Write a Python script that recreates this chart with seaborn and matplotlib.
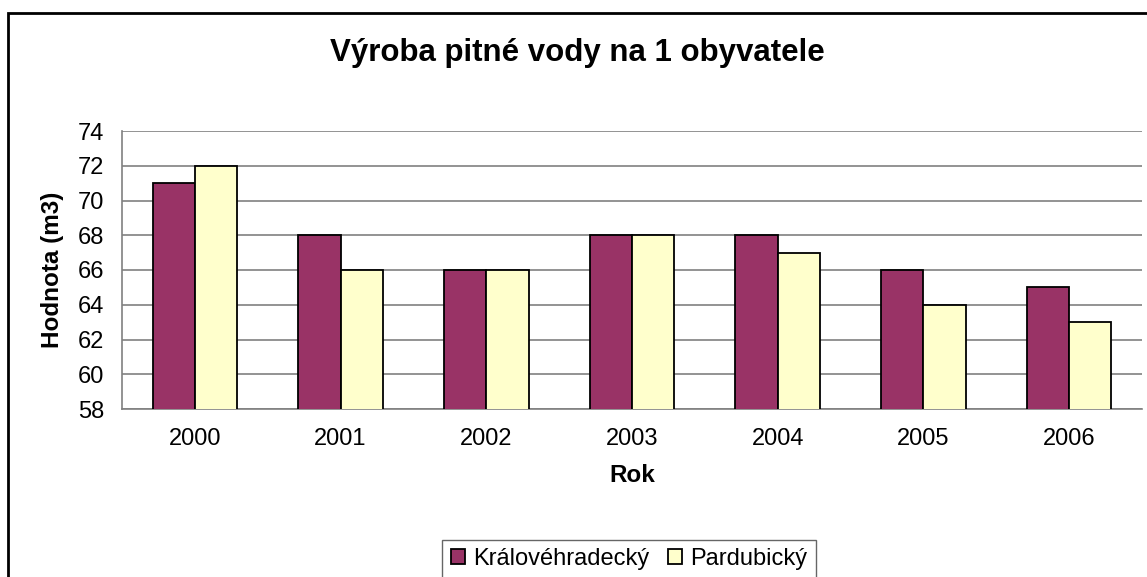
import matplotlib
matplotlib.use("Agg")
import matplotlib.pyplot as plt
import pandas as pd
import seaborn as sns
from matplotlib.patches import Rectangle

years = ["2000", "2001", "2002", "2003", "2004", "2005", "2006"]
kralovehradecky = [71, 68, 66, 68, 68, 66, 65]
pardubicky = [72, 66, 66, 68, 67, 64, 63]
series_names = ["Královéhradecký", "Pardubický"]

df = pd.DataFrame({
    "Rok": years * 2,
    "Hodnota": kralovehradecky + pardubicky,
    "Kraj": [series_names[0]] * len(years) + [series_names[1]] * len(years),
})

sns.set_style("white")
plt.rcParams["font.family"] = ["Liberation Sans", "DejaVu Sans"]
plt.rcParams["text.color"] = "black"
plt.rcParams["xtick.color"] = "black"
plt.rcParams["ytick.color"] = "black"
plt.rcParams["axes.labelcolor"] = "black"

fig = plt.figure(figsize=(11.47, 5.77), dpi=100)
ax = fig.add_axes([122 / 1147, 1 - 409 / 577, (1142 - 122) / 1147, (409 - 131) / 577])

sns.barplot(data=df, x="Rok", y="Hodnota", hue="Kraj",
            palette=["#993366", "#FFFFCC"], saturation=1, width=0.58, gap=0,
            edgecolor="black", linewidth=1.3, ax=ax, legend=True, zorder=3)

ax.set_xlim(-0.5, len(years) - 0.5)
ax.set_ylim(58, 74)
ax.set_yticks(range(58, 75, 2))
ax.yaxis.grid(True, color="#808080", linewidth=1.2, zorder=0)
ax.set_axisbelow(True)

for side in ["top", "right"]:
    ax.spines[side].set_visible(False)
for side in ["left", "bottom"]:
    ax.spines[side].set_color("#808080")
    ax.spines[side].set_linewidth(1.2)

ax.set_xticks([i - 0.5 for i in range(len(years) + 1)], minor=True)
ax.tick_params(axis="x", which="major", length=0, pad=14, labelsize=17)
ax.tick_params(axis="x", which="minor", length=7, color="#808080", width=1.2, direction="out")
ax.tick_params(axis="y", length=7, color="#808080", labelcolor="black", width=1.2,
               direction="out", labelsize=17, pad=6)

ax.set_xlabel("Rok", fontsize=17.5, fontweight="bold", labelpad=10)
ax.set_ylabel("Hodnota (m3)", fontsize=17.5, fontweight="bold", labelpad=10)

fig.text(0.5 + 8 / 1147 / 2, 1 - 53 / 577, "Výroba pitné vody na 1 obyvatele",
         ha="center", va="center", fontsize=22.5, fontweight="bold")

handles, labels = ax.get_legend_handles_labels()
ax.get_legend().remove()
leg = fig.legend(handles, labels, loc="center", bbox_to_anchor=(629 / 1147, 1 - 559 / 577),
                 ncol=2, fontsize=17, frameon=True, fancybox=False, edgecolor="#404040",
                 handlelength=0.6, handleheight=0.6, handletextpad=0.35, columnspacing=0.8,
                 borderpad=0.35)
leg.get_frame().set_linewidth(1.0)

fig.patches.append(Rectangle((8 / 1147, -0.1), 1.2, 1 - 13 / 577 + 0.1,
                             transform=fig.transFigure, fill=False,
                             edgecolor="black", linewidth=2, zorder=0))

fig.savefig("out.png", dpi=100)
